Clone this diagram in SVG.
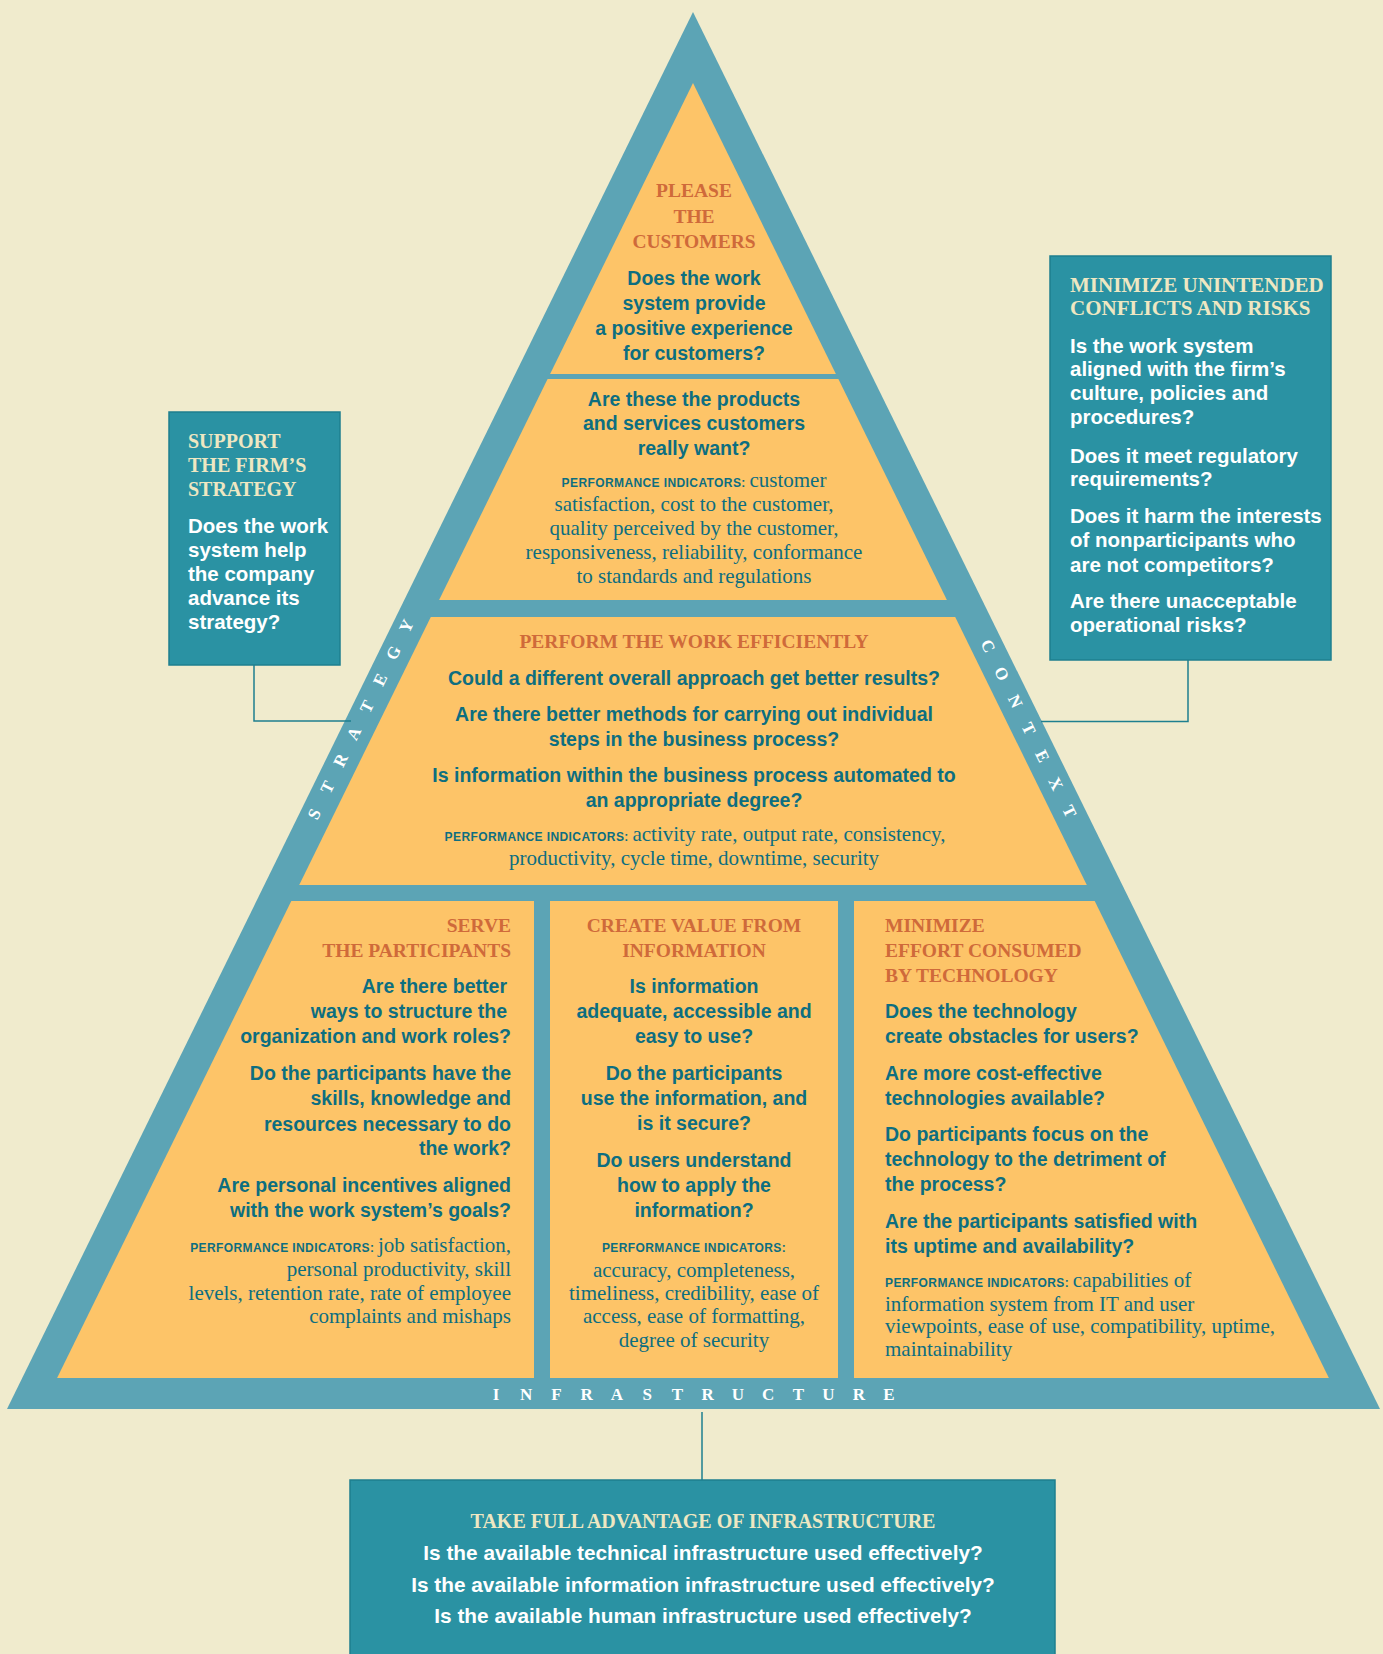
<svg xmlns="http://www.w3.org/2000/svg" width="1383" height="1654" viewBox="0 0 1383 1654">
<style>
.bg{fill:#F0EBCD}
.band{fill:#5CA4B5}
.sec{fill:#FDC468}
.box{fill:#2A92A3;stroke:#1E7F8F;stroke-width:1.5}
.conn{fill:none;stroke:#1E7F8F;stroke-width:1.5}
text{font-family:"Liberation Sans",Arial,sans-serif}
.ttl{font-family:"Liberation Serif","Times New Roman",serif;font-weight:bold;font-size:19.5px;fill:#CF6A3A}
.q{font-weight:bold;font-size:19.5px;fill:#0D6E80}
.pil{font-family:"Liberation Sans",Arial,sans-serif;font-weight:bold;font-size:12px;letter-spacing:0.4px;fill:#0D6E80}
.pi{font-family:"Liberation Serif","Times New Roman",serif;font-size:21px;fill:#0D6E80}
.bt{font-family:"Liberation Serif","Times New Roman",serif;font-weight:bold;font-size:20px;fill:#EEE7C2}
.bt2{font-family:"Liberation Serif","Times New Roman",serif;font-weight:bold;font-size:21px;fill:#EEE7C2}
.bq{font-weight:bold;font-size:20.5px;fill:#FFFFFF}
.bq3{font-weight:bold;font-size:20.8px;fill:#FFFFFF}
.lbl{font-family:"Liberation Serif","Times New Roman",serif;font-weight:bold;font-size:17px;fill:#FFFFFF;text-anchor:middle}
.c{text-anchor:middle}
.r{text-anchor:end}
</style>
<rect class="bg" x="0" y="0" width="1383" height="1654"/>

<g id="pyramid-frame">
<polygon class="band" points="693,12 1380,1409 7,1409"/>
</g>

<g id="band-labels">
<text class="lbl" x="496 526.2 556.5 586.7 616.9 647.2 677.4 707.6 737.8 768.1 798.3 828.5 858.8 889" y="1400">INFRASTRUCTURE</text>
<g transform="translate(360,720) rotate(-63.85)">
<text class="lbl" x="-104.5 -74.6 -44.7 -14.8 15.1 45 74.9 104.8" y="6">STRATEGY</text>
</g>
<g transform="translate(1029,728.5) rotate(63.85)">
<text class="lbl" x="-92 -61.3 -30.6 0 30.7 61.4 92.1" y="6">CONTEXT</text>
</g>
</g>

<g id="please-customers">
<polygon class="sec" points="693,83 835.9,374 550.1,374"/>
<text class="ttl c" x="694" y="197">PLEASE</text>
<text class="ttl c" x="694" y="222.5">THE</text>
<text class="ttl c" x="694" y="248">CUSTOMERS</text>
<text class="q c" x="694" y="285">Does the work</text>
<text class="q c" x="694" y="310">system provide</text>
<text class="q c" x="694" y="335">a positive experience</text>
<text class="q c" x="694" y="360">for customers?</text>
</g>

<g id="products-services">
<polygon class="sec" points="547.6,379 838.4,379 946.9,600 439.1,600"/>
<text class="q c" x="694" y="405.5">Are these the products</text>
<text class="q c" x="694" y="430">and services customers</text>
<text class="q c" x="694" y="455">really want?</text>
<text class="pi c" x="694" y="487"><tspan class="pil">PERFORMANCE INDICATORS: </tspan>customer</text>
<text class="pi c" x="694" y="511">satisfaction, cost to the customer,</text>
<text class="pi c" x="694" y="535">quality perceived by the customer,</text>
<text class="pi c" x="694" y="559">responsiveness, reliability, conformance</text>
<text class="pi c" x="694" y="583">to standards and regulations</text>
</g>

<g id="perform-work">
<polygon class="sec" points="430.8,617 955.2,617 1086.8,885 299.2,885"/>
<text class="ttl c" x="694" y="648">PERFORM THE WORK EFFICIENTLY</text>
<text class="q c" x="694" y="685">Could a different overall approach get better results?</text>
<text class="q c" x="694" y="720.5">Are there better methods for carrying out individual</text>
<text class="q c" x="694" y="746">steps in the business process?</text>
<text class="q c" x="694" y="781.5">Is information within the business process automated to</text>
<text class="q c" x="694" y="806.5">an appropriate degree?</text>
<text class="pi c" x="695" y="840.5"><tspan class="pil">PERFORMANCE INDICATORS:  </tspan>activity rate, output rate, consistency,</text>
<text class="pi c" x="694" y="865">productivity, cycle time, downtime, security</text>
</g>

<g id="serve-participants">
<polygon class="sec" points="291.3,901 534,901 534,1378 57.1,1378"/>
<text class="ttl r" x="511" y="932">SERVE</text>
<text class="ttl r" x="511" y="957">THE PARTICIPANTS</text>
<text class="q r" x="507" y="993">Are there better</text>
<text class="q r" x="507" y="1018">ways to structure the</text>
<text class="q r" x="511" y="1043">organization and work roles?</text>
<text class="q r" x="511" y="1080">Do the participants have the</text>
<text class="q r" x="511" y="1105">skills, knowledge and</text>
<text class="q r" x="511" y="1130.5">resources necessary to do</text>
<text class="q r" x="511" y="1155">the work?</text>
<text class="q r" x="511" y="1192">Are personal incentives aligned</text>
<text class="q r" x="511" y="1217">with the work system’s goals?</text>
<text class="pi r" x="511" y="1252"><tspan class="pil">PERFORMANCE INDICATORS: </tspan>job satisfaction,</text>
<text class="pi r" x="511" y="1276">personal productivity, skill</text>
<text class="pi r" x="511" y="1299.5">levels, retention rate, rate of employee</text>
<text class="pi r" x="511" y="1323">complaints and mishaps</text>
</g>

<g id="create-value">
<rect class="sec" x="550" y="901" width="288" height="477"/>
<text class="ttl c" x="694" y="932">CREATE VALUE FROM</text>
<text class="ttl c" x="694" y="957">INFORMATION</text>
<text class="q c" x="694" y="993">Is information</text>
<text class="q c" x="694" y="1018">adequate, accessible and</text>
<text class="q c" x="694" y="1043">easy to use?</text>
<text class="q c" x="694" y="1079.5">Do the participants</text>
<text class="q c" x="694" y="1105">use the information, and</text>
<text class="q c" x="694" y="1130">is it secure?</text>
<text class="q c" x="694" y="1167">Do users understand</text>
<text class="q c" x="694" y="1192">how to apply the</text>
<text class="q c" x="694" y="1217">information?</text>
<text class="pil c" x="694" y="1252">PERFORMANCE INDICATORS:</text>
<text class="pi c" x="694" y="1276.5">accuracy, completeness,</text>
<text class="pi c" x="694" y="1299.5">timeliness, credibility, ease of</text>
<text class="pi c" x="694" y="1323">access, ease of formatting,</text>
<text class="pi c" x="694" y="1347">degree of security</text>
</g>

<g id="minimize-effort">
<polygon class="sec" points="854,901 1094.7,901 1328.9,1378 854,1378"/>
<text class="ttl" x="885" y="932">MINIMIZE</text>
<text class="ttl" x="885" y="957">EFFORT CONSUMED</text>
<text class="ttl" x="885" y="982">BY TECHNOLOGY</text>
<text class="q" x="885" y="1018">Does the technology</text>
<text class="q" x="885" y="1043">create obstacles for users?</text>
<text class="q" x="885" y="1080">Are more cost-effective</text>
<text class="q" x="885" y="1105">technologies available?</text>
<text class="q" x="885" y="1141">Do participants focus on the</text>
<text class="q" x="885" y="1166">technology to the detriment of</text>
<text class="q" x="885" y="1191">the process?</text>
<text class="q" x="885" y="1228">Are the participants satisfied with</text>
<text class="q" x="885" y="1253">its uptime and availability?</text>
<text class="pi" x="885" y="1287"><tspan class="pil">PERFORMANCE INDICATORS: </tspan>capabilities of</text>
<text class="pi" x="885" y="1310.5">information system from IT and user</text>
<text class="pi" x="885" y="1333">viewpoints, ease of use, compatibility, uptime,</text>
<text class="pi" x="885" y="1355.5">maintainability</text>
</g>

<g id="connectors">
<path class="conn" d="M254,665 V721 H351"/>
<path class="conn" d="M1188,660 V721.5 H1041"/>
<path class="conn" d="M702,1412 V1480"/>
</g>

<g id="support-strategy">
<rect class="box" x="169" y="412" width="171" height="253"/>
<text class="bt" x="188" y="448">SUPPORT</text>
<text class="bt" x="188" y="472">THE FIRM’S</text>
<text class="bt" x="188" y="496">STRATEGY</text>
<text class="bq" x="188" y="533">Does the work</text>
<text class="bq" x="188" y="557">system help</text>
<text class="bq" x="188" y="581">the company</text>
<text class="bq" x="188" y="605">advance its</text>
<text class="bq" x="188" y="629">strategy?</text>
</g>

<g id="minimize-conflicts">
<rect class="box" x="1050" y="256" width="281" height="404"/>
<text class="bt2" x="1070" y="291.5">MINIMIZE UNINTENDED</text>
<text class="bt2" x="1070" y="315">CONFLICTS AND RISKS</text>
<text class="bq" x="1070" y="352.5">Is the work system</text>
<text class="bq" x="1070" y="376">aligned with the firm’s</text>
<text class="bq" x="1070" y="400">culture, policies and</text>
<text class="bq" x="1070" y="424">procedures?</text>
<text class="bq" x="1070" y="462.5">Does it meet regulatory</text>
<text class="bq" x="1070" y="486">requirements?</text>
<text class="bq" x="1070" y="523">Does it harm the interests</text>
<text class="bq" x="1070" y="547">of nonparticipants who</text>
<text class="bq" x="1070" y="571.5">are not competitors?</text>
<text class="bq" x="1070" y="608">Are there unacceptable</text>
<text class="bq" x="1070" y="631.5">operational risks?</text>
</g>

<g id="infrastructure">
<rect class="box" x="350" y="1480" width="705" height="190"/>
<text class="bt c" x="703" y="1528">TAKE FULL ADVANTAGE OF INFRASTRUCTURE</text>
<text class="bq3 c" x="703" y="1560">Is the available technical infrastructure used effectively?</text>
<text class="bq3 c" x="703" y="1591.5">Is the available information infrastructure used effectively?</text>
<text class="bq3 c" x="703" y="1623">Is the available human infrastructure used effectively?</text>
</g>
</svg>
